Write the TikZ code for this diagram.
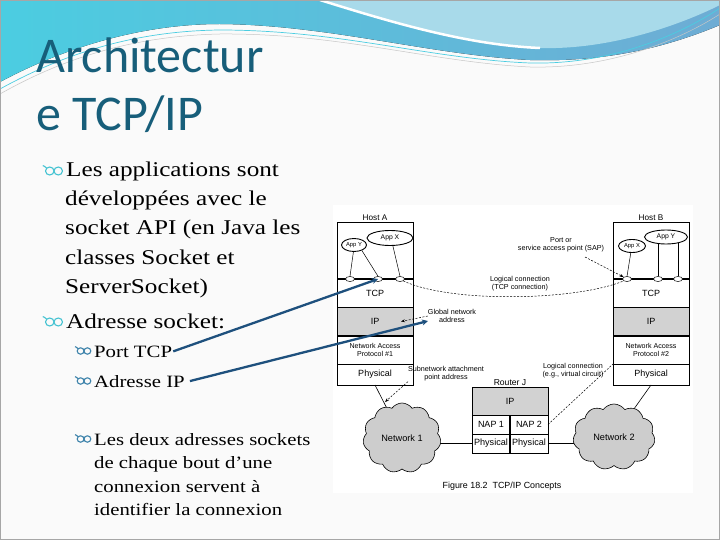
\documentclass[tikz,border=0pt]{standalone}
\usepackage{fontspec}
\setmainfont{Liberation Serif}
\newfontfamily\titlefont{Carlito}
\newfontfamily\bodyfont[FakeStretch=1.2]{Liberation Serif}
\newfontfamily\diagfont{Liberation Sans}
\usetikzlibrary{shapes.geometric,shapes.symbols,arrows.meta}
\definecolor{titlecol}{RGB}{23,94,122}
\definecolor{bulA}{RGB}{70,195,210}
\definecolor{bulB}{RGB}{60,130,170}
\definecolor{arrowblue}{RGB}{30,80,125}
\definecolor{layergray}{RGB}{210,210,210}
\definecolor{cloudgray}{RGB}{205,205,205}
\definecolor{bandL}{RGB}{75,205,225}
\definecolor{bandR}{RGB}{110,172,212}
\definecolor{bandLight}{RGB}{168,218,234}
\definecolor{slidebg}{RGB}{250,250,250}
\pgfdeclarelayer{bg}
\pgfsetlayers{bg,main}
\tikzset{
  layerbox/.style={draw, line width=0.6pt, minimum width=76pt, inner sep=0pt, outer sep=0pt,
    anchor=north west, align=center, font=\diagfont\fontsize{9}{10}\selectfont},
  napfont/.style={font=\diagfont\fontsize{7.1}{8.6}\selectfont},
  hostlabel/.style={font=\diagfont\fontsize{8.2}{9}\selectfont, inner sep=1.5pt},
  port/.style={ellipse, draw, fill=white, minimum width=9pt, minimum height=5pt, inner sep=0pt, line width=0.5pt},
  app/.style={ellipse, draw, line width=0.9pt, fill=white, inner sep=0pt, font=\diagfont\fontsize{6.8}{7}\selectfont},
  smallapp/.style={app, font=\diagfont\fontsize{5.8}{6}\selectfont},
  note/.style={font=\diagfont\fontsize{7.2}{8.2}\selectfont, align=center, inner sep=0pt},
  netcloud/.style={cloud, cloud puffs=11, cloud puff arc=110, draw, fill=cloudgray, line width=0.6pt,
    inner sep=0pt, font=\diagfont\fontsize{9.2}{10}\selectfont},
  dashconn/.style={line width=0.5pt, dash pattern=on 2pt off 1.5pt},
  bluearr/.style={draw=arrowblue, line width=2.3pt, -{Stealth[length=6pt,width=6pt]}},
  lineone/.style={anchor=base west, inner sep=0pt, font=\bodyfont\fontsize{21}{29}\selectfont},
  linetwo/.style={anchor=base west, inner sep=0pt, font=\bodyfont\fontsize{17.3}{23}\selectfont},
  bulletmark/.pic={
    \draw[line width=1.1pt] (-3.4,0) ellipse[x radius=3.4, y radius=3.2];
    \draw[line width=1.1pt] (3.4,0) ellipse[x radius=3.4, y radius=3.2];
    \draw[line width=1.1pt] (-5.8,-2.2) .. controls (-7.2,-3.6) and (-8.2,-4.2) .. (-9,-4.3);
  }
}
\begin{document}
\begin{tikzpicture}[x=1pt,y=-1pt]
\useasboundingbox (0,0) rectangle (720,540);
\begin{pgfonlayer}{bg}
  % slide background and top decoration
  \fill[slidebg] (0,0) rectangle (720,540);
  \fill[left color=bandL, right color=bandR] (0,0) -- (720,0) -- (720,25)
     .. controls (660,50) and (600,62) .. (530,60)
     .. controls (430,55) and (330,25) .. (220,24)
     .. controls (130,24) and (50,55) .. (0,82) -- cycle;
  \fill[bandLight] (320,0) .. controls (400,25) and (470,45) .. (540,48)
     .. controls (610,50) and (680,25) .. (720,5) -- (720,0) -- cycle;
  \draw[white, line width=2.5pt] (320,0) .. controls (400,25) and (470,45) .. (540,48);
  \draw[white!55!gray, line width=0.5pt] (0,94) .. controls (60,60) and (130,36) .. (220,34)
     .. controls (340,33) and (430,62) .. (530,67) .. controls (610,69) and (680,40) .. (720,14);
  \draw[bandL, line width=0.7pt] (0,89) .. controls (60,56) and (130,31) .. (220,30)
     .. controls (340,30) and (430,59) .. (530,63) .. controls (610,65) and (680,35) .. (720,8);
  \draw[gray!70, line width=1pt] (0.5,0.5) rectangle (719.5,539.5);
  % figure panel
  \fill[white] (333,205) rectangle (693,493);
\end{pgfonlayer}

% ---------- title ----------
\node[anchor=base west, inner sep=0pt, text=titlecol, font=\titlefont\fontsize{50}{50}\selectfont] (t1) at (36,73) {Architectur};
\node[anchor=base west, inner sep=0pt, text=titlecol, font=\titlefont\fontsize{50}{50}\selectfont] (t2) at (36,131) {e TCP/IP};

% ---------- body text ----------
\pic[color=bulA, scale=1.25] at (54,171) {bulletmark};
\node[lineone] (p1a) at (66,177) {Les applications sont};
\node[lineone] (p1b) at (65,206) {développées avec le};
\node[lineone] (p1c) at (65,235) {socket API (en Java les};
\node[lineone] (p1d) at (65,264) {classes Socket et};
\node[lineone] (p1e) at (65,293) {ServerSocket)};
\pic[color=bulA, scale=1.25] at (54,322) {bulletmark};
\node[lineone] (p2a) at (66,328) {Adresse socket:};
\pic[color=bulB] at (84,351) {bulletmark};
\node[linetwo] (s1) at (94,357) {Port TCP};
\pic[color=bulB] at (84,381) {bulletmark};
\node[linetwo] (s2) at (94,387) {Adresse IP};
\pic[color=bulB] at (84,439) {bulletmark};
\node[linetwo] (s3a) at (94,445) {Les deux adresses sockets};
\node[linetwo] (s3b) at (94,468) {de chaque bout d’une};
\node[linetwo] (s3c) at (94,492) {connexion servent à};
\node[linetwo] (s3d) at (94,515) {identifier la connexion};

% ---------- Host A ----------
\node[layerbox, minimum height=57pt] (appA) at (337,222) {};
\node[layerbox, minimum height=28pt] (tcpA) at (337,279) {TCP};
\node[layerbox, fill=layergray, minimum height=29pt] (ipA) at (337,307) {IP};
\node[layerbox, napfont, minimum height=28pt] (napA) at (337,336) {Network Access\\Protocol \#1};
\node[layerbox, minimum height=21pt] (phyA) at (337,364) {Physical};
\node[hostlabel, above] (hostA) at (appA.north) {Host A};
\draw[line width=1.8pt] (tcpA.north west) -- (tcpA.north east);
\draw[line width=1.1pt] (ipA.south west) -- (ipA.south east);

\node[smallapp, minimum width=25pt, minimum height=13pt] (appYA) at (354,245) {App Y};
\node[app, minimum width=46pt, minimum height=15pt] (appXA) at (390,238) {App X};
\node[port] (pA1) at (350,279) {};
\node[port] (pA2) at (378,279) {};
\node[port] (pA3) at (400,279) {};
\draw[line width=0.5pt] (appYA.-95) -- (pA1.north);
\draw[line width=0.5pt] (appYA.-35) -- (pA2.north);
\draw[line width=0.5pt] (appXA.-70) -- (pA3.north);

% ---------- Host B ----------
\node[layerbox, minimum height=57pt] (appB) at (613,222) {};
\node[layerbox, minimum height=28pt] (tcpB) at (613,279) {TCP};
\node[layerbox, fill=layergray, minimum height=29pt] (ipB) at (613,307) {IP};
\node[layerbox, napfont, minimum height=28pt] (napB) at (613,336) {Network Access\\Protocol \#2};
\node[layerbox, minimum height=21pt] (phyB) at (613,364) {Physical};
\node[hostlabel, above] (hostB) at (appB.north) {Host B};
\draw[line width=1.8pt] (tcpB.north west) -- (tcpB.north east);
\draw[line width=1.1pt] (ipB.south west) -- (ipB.south east);

\node[smallapp, minimum width=27pt, minimum height=13pt] (appXB) at (632,246) {App X};
\node[app, minimum width=43pt, minimum height=14pt] (appYB) at (666,237) {App Y};
\node[port] (pB1) at (627,279) {};
\node[port] (pB2) at (658,279) {};
\node[port] (pB3) at (678,279) {};
\draw[line width=0.5pt] (appXB.-100) -- (pB1.north);
\draw[line width=0.5pt] (pB2.north) -- (pB2.north |- appYB.-141);
\draw[line width=0.5pt] (pB3.north) -- (pB3.north |- appYB.-26);

% ---------- Router J ----------
\node[layerbox, fill=layergray, minimum height=28pt] (ipR) at (472,387) {IP};
\node[layerbox, minimum width=38pt, minimum height=19pt] (nap1) at (472,415) {NAP 1};
\node[layerbox, minimum width=38pt, minimum height=19pt] (nap2) at (510,415) {NAP 2};
\node[layerbox, minimum width=38pt, minimum height=19pt, font=\diagfont\fontsize{9.1}{9}\selectfont] (phy1) at (472,434) {Physical};
\node[layerbox, minimum width=38pt, minimum height=19pt, font=\diagfont\fontsize{9.1}{9}\selectfont] (phy2) at (510,434) {Physical};
\draw[line width=1.6pt] (nap1.north east) -- (phy1.south east);
\node[hostlabel, above, font=\diagfont\fontsize{8.6}{9}\selectfont] (routerJ) at (ipR.north) {Router J};

% ---------- networks ----------
\node[netcloud, minimum width=78pt, minimum height=70pt] (net1) at (402,438) {Network 1};
\node[netcloud, minimum width=82pt, minimum height=66pt] (net2) at (614,437) {Network 2};
\begin{pgfonlayer}{bg}
  \draw[line width=0.6pt] (phyA.south) -- (net1.center);
  \draw[line width=0.6pt] (phyB.south) -- (net2.center);
  \draw[line width=0.6pt] (phy1.west) -- (phy1.west -| net1.center);
  \draw[line width=0.6pt] (phy2.east) -- (phy2.east -| net2.center);
\end{pgfonlayer}

% ---------- annotations ----------
\node[note] (lc1) at (520,284) {Logical connection\\(TCP connection)};
\draw[dashconn] (pA3.south east) .. controls (450,303) and (575,301) .. (pB1.south west);

\node[note] (sap) at (561,245) {Port or\\service access point (SAP)};
\coordinate (sapS) at (585,257);
\draw[dashconn, -{Stealth[length=4pt,width=3pt]}] (sapS) -- (pB1.north west);

\node[note] (gna) at (452,316) {Global network\\address};
\draw[dashconn, -{Stealth[length=4pt,width=3pt]}] (gna.west) -- ([xshift=-12pt]ipA.east);

\node[note] (sub) at (446,374) {Subnetwork attachment\\point address};
\coordinate (subE) at (385,402);
\draw[dashconn, -{Stealth[length=4pt,width=3pt]}] (sub.south west) -- (subE);

\node[note] (lc2) at (573,371) {Logical connection\\(e.g., virtual circuit)};
\draw[dashconn] (nap2.east) -- (napB.south west);

\node[note, font=\diagfont\fontsize{8.9}{9}\selectfont] (cap) at (502,486) {Figure 18.2\ \ TCP/IP Concepts};

% ---------- blue pointers ----------
\coordinate (gnaTip) at (428,321);
\draw[bluearr] ([xshift=1pt]s1.east) -- (pA2.center);
\draw[bluearr] ([xshift=5pt]s2.east) -- (gnaTip);
\end{tikzpicture}
\end{document}
